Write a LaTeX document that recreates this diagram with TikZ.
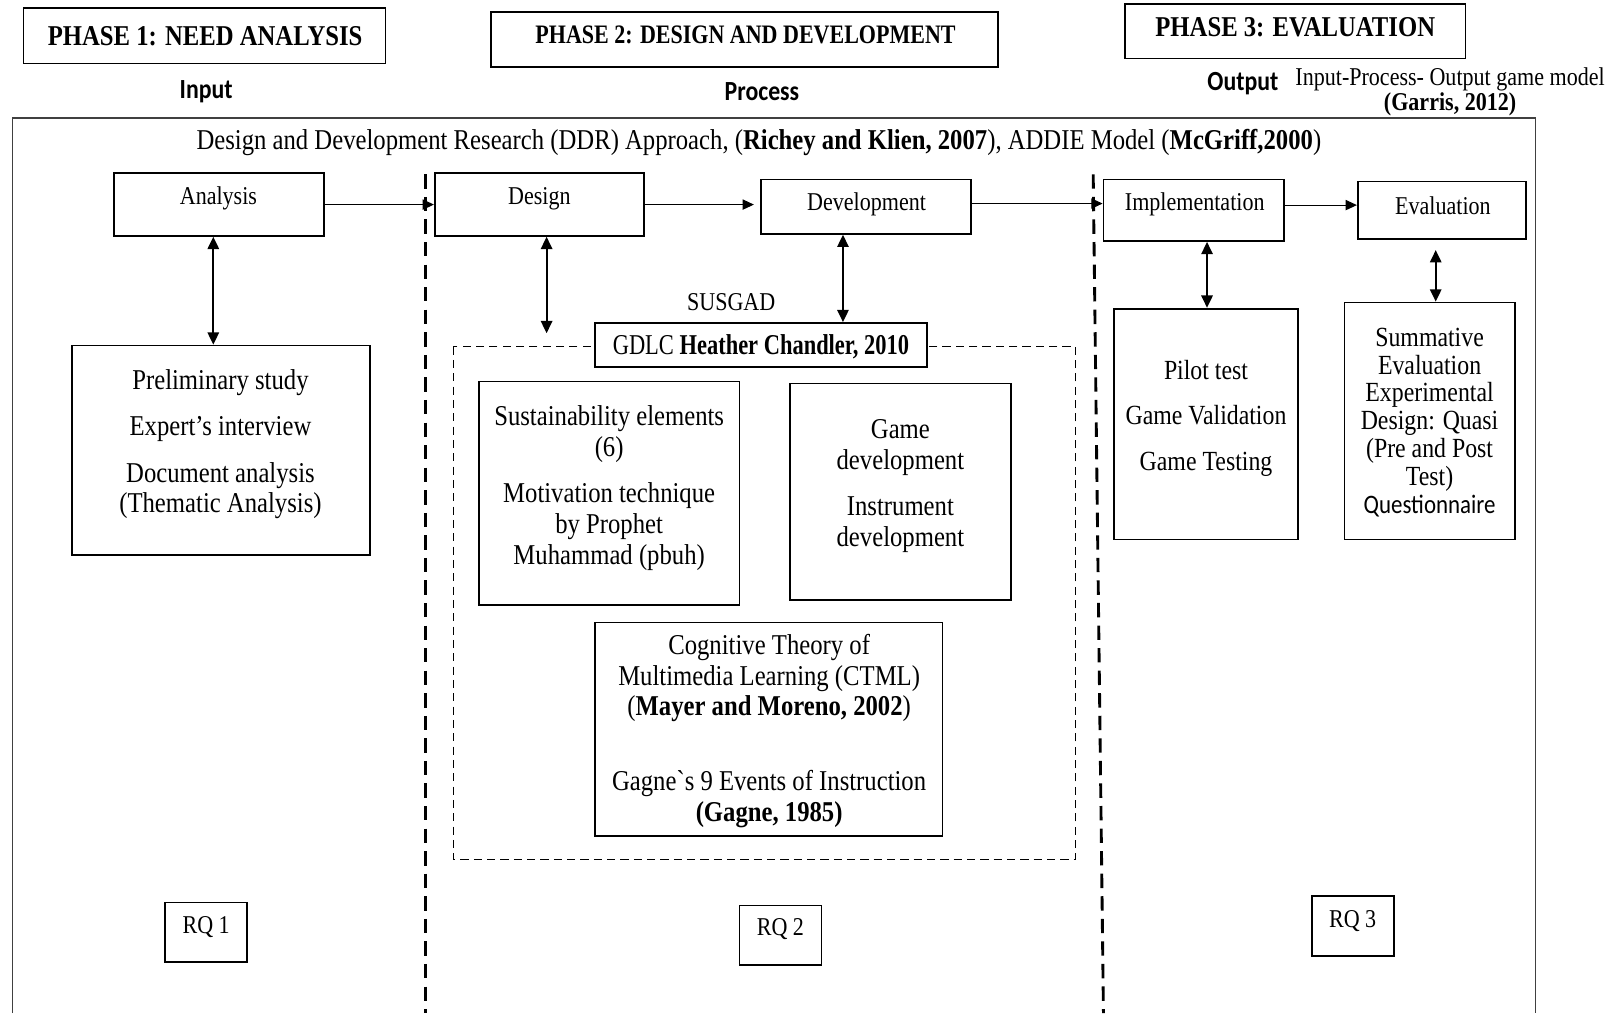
\documentclass[tikz,border=0pt]{standalone}
\usepackage{graphicx}
\usepackage{fontspec}
\setmainfont{Liberation Serif}[FakeStretch=0.86]
\setsansfont{Carlito}[FakeStretch=0.86]
\newfontfamily\gravefont{Liberation Serif}[FakeStretch=0.86]
\usetikzlibrary{arrows.meta,fit}
\begin{document}
\begin{tikzpicture}[x=0.5pt,y=-0.5pt,
  box/.style={draw, line width=0.85pt, inner sep=0pt},
  whitebox/.style={box, fill=white},
  tbig/.style={font=\fontsize{14}{15}\selectfont, align=center, inner sep=0pt, yshift=-1.2pt},
  tmid/.style={font=\fontsize{13.5}{13.6}\selectfont, align=center, inner sep=0pt, yshift=-1.2pt},
  tsmall/.style={font=\fontsize{12.5}{14}\selectfont, align=center, inner sep=0pt, yshift=-1.2pt},
  head/.style={font=\fontsize{14}{16}\selectfont\bfseries, inner sep=0pt},
  sanslbl/.style={font=\sffamily\bfseries\fontsize{13.5}{15}\selectfont, inner sep=0pt, yshift=-0.6pt},
  harrow/.style={-{Triangle[length=5.5pt,width=5pt]}, line width=0.5pt},
  varrow/.style={{Triangle[length=6pt,width=5.5pt]}-{Triangle[length=6pt,width=5.5pt]}, line width=1pt},
  divider/.style={dash pattern=on 7pt off 4pt, line width=1.4pt},
  groupline/.style={dash pattern=on 4pt off 2.5pt, line width=0.7pt}]
\useasboundingbox (0,0) rectangle (1568,988);

% phase headings
\node[box, fit={(23,8) (376,62)}] (ph1) {};
\node[head] (ph1T) at (200,35) {PHASE 1: NEED ANALYSIS};
\node[box, fit={(479,12) (973,65)}] (ph2) {};
\node[head, font=\fontsize{13}{15}\selectfont\bfseries] (ph2T) at (727,34) {\scalebox{0.96}[1]{PHASE 2: DESIGN AND DEVELOPMENT}};
\node[box, fit={(1097,4) (1429,57)}] (ph3) {};
\node[head] (ph3T) at (1263,27) {PHASE 3: EVALUATION};

\node[sanslbl] (inlbl) at (201,88) {Input};
\node[sanslbl] (proclbl) at (743,88) {Process};
\node[sanslbl] (outlbl) at (1212,80) {Output};
\node[tsmall] (ipo) at (1414,75) {Input-Process- Output game model};
\node[tsmall] (garris) at (1414,99) {\textbf{(Garris, 2012)}};

% outer frame
\coordinate (fbl) at (12,988);
\coordinate (ftl) at (12,115);
\coordinate (ftr) at (1497,115);
\coordinate (fbr) at (1497,988);
\draw[line width=0.6pt, black!75] (fbl) -- (ftl) -- (ftr) -- (fbr);

\node[tbig] (title) at (740,137) {Design and Development Research (DDR) Approach, (\textbf{Richey and Klien, 2007}), ADDIE Model (\textbf{McGriff,2000})};

% dividers
\coordinate (d1t) at (415,170);
\coordinate (d1b) at (415,988);
\coordinate (d2t) at (1066,170);
\coordinate (d2b) at (1076,988);
\draw[divider] (d1t) -- (d1b);
\draw[divider] (d2t) -- (d2b);

% ADDIE boxes
\node[box, fit={(111,169) (316,230)}] (analysis) {};
\node[tsmall] (analysisT) at (213,191) {Analysis};
\node[box, fit={(424,169) (628,230)}] (design) {};
\node[tsmall] (designT) at (526,191) {Design};
\node[box, fit={(742,175) (947,228)}] (development) {};
\node[tsmall] (developmentT) at (845,197) {Development};
\node[box, fit={(1076,175) (1252,235)}] (implementation) {};
\node[tsmall] (implementationT) at (1165,197) {Implementation};
\node[box, fit={(1324,177) (1488,233)}] (evaluation) {};
\node[tsmall] (evaluationT) at (1407,198) {Evaluation};

\draw[harrow] (analysis) -- (design);
\draw[harrow, shorten >=3pt] (design.east) -- (design.east -| development.west);
\draw[harrow] ([yshift=1.5pt]development.east) -- ([yshift=1.5pt]development.east -| implementation.west);
\draw[harrow] ([yshift=2.5pt]implementation.east) -- ([yshift=2.5pt]implementation.east -| evaluation.west);

% phase 1 details
\node[box, fit={(70,337) (361,541)}] (prelim) {};
\node[tbig] (prelimT) at (215,431) {Preliminary study\\[7.5pt]Expert’s interview\\[7.5pt]Document analysis\\(Thematic Analysis)};
\draw[varrow] ([xshift=-2.75pt]analysis.south) -- ([xshift=-2.75pt]analysis.south |- prelim.north);

% phase 2 details
\coordinate (dfree) at (533,325);
\draw[varrow] (design.south -| dfree) -- (dfree);
\node[tsmall] (susgad) at (713,292) {SUSGAD};
\draw[groupline] (442,338) rectangle (1049,838);
\node[whitebox, fit={(580,315) (904,358)}] (gdlc) {};
\node[tbig] (gdlcT) at (742,336) {\scalebox{0.91}[1]{GDLC \textbf{Heather Chandler, 2010}}};
\draw[varrow] ([xshift=-11.25pt]development.south) -- ([xshift=-11.25pt]development.south |- gdlc.north);

\node[box, fit={(467,372) (721,590)}] (sustain) {};
\node[tbig] (sustainT) at (594,473.5) {Sustainability elements\\(6)\\[7.5pt]Motivation technique\\by Prophet\\Muhammad (pbuh)};
\node[box, fit={(770,374) (986,585)}] (gamedev) {};
\node[tbig] (gamedevT) at (878,471.5) {Game\\development\\[7.5pt]Instrument\\development};
\node[box, fit={(580,607) (919,815)}] (ctml) {};
\node[tbig] (ctmlT) at (750,710.5) {Cognitive Theory of\\Multimedia Learning (CTML)\\(\textbf{Mayer and Moreno, 2002})\\[21.5pt]Gagne{\gravefont `}s 9 Events of Instruction\\\textbf{(Gagne, 1985)}};

% phase 3 details
\node[box, fit={(1086,301) (1266,526)}] (pilot) {};
\node[tmid, font=\fontsize{13.5}{15}\selectfont] (pilotT) at (1176,405.5) {Pilot test\\[7pt]Game Validation\\[7pt]Game Testing};
\draw[varrow] ([xshift=6.5pt]implementation.south) -- ([xshift=6.5pt]implementation.south |- pilot.north);
\node[box, fit={(1311,295) (1477,526)}] (summ) {};
\node[tmid] (summT) at (1394,409.5) {Summative\\Evaluation\\Experimental\\Design: Quasi\\(Pre and Post\\Test)\\{\sffamily\fontsize{13}{13.6}\selectfont Questionnaire}};
\draw[varrow, shorten <=5pt] ([xshift=-3pt]evaluation.south) -- ([xshift=-3pt]evaluation.south |- summ.north);

% research questions
\node[box, fit={(161,880) (241,938)}] (rq1) {};
\node[tsmall] (rq1T) at (201,902) {RQ 1};
\node[box, fit={(721,883) (801,941)}] (rq2) {};
\node[tsmall] (rq2T) at (761,904) {RQ 2};
\node[box, fit={(1279,874) (1359,932)}] (rq3) {};
\node[tsmall] (rq3T) at (1319,896) {RQ 3};
\end{tikzpicture}
\end{document}
